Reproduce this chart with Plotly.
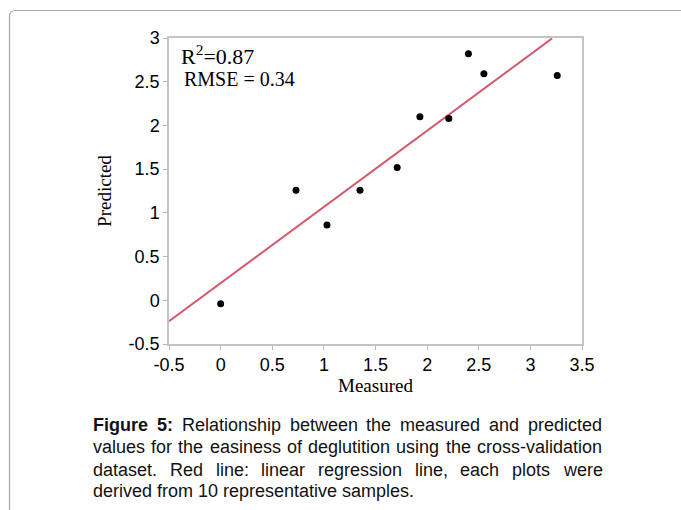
import plotly.graph_objects as go

# ---------------- data ----------------
measured = [0.00, 0.73, 1.03, 1.35, 1.71, 1.93, 2.21, 2.40, 2.55, 3.26]
predicted = [-0.04, 1.26, 0.86, 1.26, 1.52, 2.10, 2.08, 2.82, 2.59, 2.57]
fit_slope = 0.872
fit_intercept = 0.196
fit_x_range = [-0.5, 3.21]

x_tickvals = [-0.5, 0, 0.5, 1, 1.5, 2, 2.5, 3, 3.5]
x_ticktext = ["-0.5", "0", "0.5", "1", "1.5", "2", "2.5", "3", "3.5"]
y_tickvals = [-0.5, 0, 0.5, 1, 1.5, 2, 2.5, 3]
y_ticktext = ["-0.5", "0", "0.5", "1", "1.5", "2", "2.5", "3"]

r2_text = "R<sup>2</sup>=0.87"
rmse_text = "RMSE = 0.34"
x_title = "Measured"
y_title = "Predicted"

caption_lines = [
    [("Figure", True), ("5:", True), ("Relationship", False), ("between", False), ("the", False),
     ("measured", False), ("and", False), ("predicted", False)],
    [("values", False), ("for", False), ("the", False), ("easiness", False), ("of", False),
     ("deglutition", False), ("using", False), ("the", False), ("cross-validation", False)],
    [("dataset.", False), ("Red", False), ("line:", False), ("linear", False), ("regression", False),
     ("line,", False), ("each", False), ("plots", False), ("were", False)],
    [("derived", False), ("from", False), ("10", False), ("representative", False), ("samples.", False)],
]
caption_justify = [True, True, True, False]

# ---------------- layout geometry ----------------
W, H = 681, 510
ML, MR, MT, MB = 169, 99, 38, 166
PW, PH = W - ML - MR, H - MT - MB


def px2x(px):
    return (px - ML) / PW


def py2y(py):
    return (H - MB - py) / PH


SANS = "Liberation Sans, Arial, Helvetica, sans-serif"
SERIF = "Liberation Serif, Times New Roman, Times, serif"

# Arial / Liberation Sans advance widths (1/1000 em)
REG = {' ': 278, ',': 278, '-': 333, '.': 278, ':': 278,
       'a': 556, 'b': 556, 'c': 500, 'd': 556, 'e': 556, 'f': 278, 'g': 556, 'h': 556,
       'i': 222, 'j': 222, 'k': 500, 'l': 222, 'm': 833, 'n': 556, 'o': 556, 'p': 556,
       'q': 556, 'r': 333, 's': 500, 't': 278, 'u': 556, 'v': 500, 'w': 722, 'x': 500,
       'y': 500, 'z': 500, 'R': 722, 'F': 611}
BOLD = {' ': 278, ':': 333, 'F': 611, 'i': 278, 'g': 611, 'u': 611, 'r': 389, 'e': 556}
for d in "0123456789":
    REG[d] = 556
    BOLD[d] = 556


def text_width(s, bold, fs):
    tbl = BOLD if bold else REG
    return sum(tbl.get(c, 556) for c in s) * fs / 1000.0


# ---------------- figure ----------------
fig = go.Figure()

line_y = [fit_intercept + fit_slope * v for v in fit_x_range]
fig.add_trace(go.Scatter(
    x=fit_x_range, y=line_y, mode="lines",
    line=dict(color="#d4596c", width=2), hoverinfo="skip", showlegend=False))

fig.add_trace(go.Scatter(
    x=measured, y=predicted, mode="markers",
    marker=dict(color="black", size=7), showlegend=False))

axis_common = dict(
    showgrid=False, zeroline=False, showline=True, mirror=True,
    linecolor="#c4c4c4", linewidth=1.5,
    ticks="outside", ticklen=4, tickwidth=1, tickcolor="#b8b8b8",
    tickfont=dict(family=SANS, size=18, color="black"),
    tickmode="array",
)

fig.update_xaxes(range=[-0.5, 3.5], tickvals=x_tickvals, ticktext=x_ticktext,
                 title=dict(text=x_title, font=dict(family=SERIF, size=19, color="black"),
                            standoff=4),
                 **axis_common)
fig.update_yaxes(range=[-0.5, 3.0], tickvals=y_tickvals, ticktext=y_ticktext,
                 title=dict(text=y_title, font=dict(family=SERIF, size=19, color="black"),
                            standoff=12),
                 **axis_common)

annotations = []
# stats text
annotations.append(dict(
    text=r2_text, xref="paper", yref="paper", x=px2x(181), y=py2y(62.7 - 0.34 * 22),
    xanchor="left", yanchor="middle", showarrow=False, borderpad=0, borderwidth=0,
    font=dict(family=SERIF, size=22, color="black")))
annotations.append(dict(
    text=rmse_text, xref="paper", yref="paper", x=px2x(184), y=py2y(86 - 0.34 * 20),
    xanchor="left", yanchor="middle", showarrow=False, borderpad=0, borderwidth=0,
    font=dict(family=SERIF, size=20, color="black")))

# caption, justified word by word
cap_fs = 18
cap_left, cap_right = 93, 602
cap_baselines = [431, 453.5, 476, 497.5]
for words, just, base in zip(caption_lines, caption_justify, cap_baselines):
    widths = [text_width(w, b, cap_fs) for w, b in words]
    if just and len(words) > 1:
        gap = (cap_right - cap_left - sum(widths)) / (len(words) - 1)
    else:
        gap = REG[' '] * cap_fs / 1000.0
    xpos = cap_left
    for (w, b), wd in zip(words, widths):
        annotations.append(dict(
            text=("<b>%s</b>" % w) if b else w, xref="paper", yref="paper",
            x=px2x(xpos), y=py2y(base - 0.3465 * cap_fs),
            xanchor="left", yanchor="middle", showarrow=False, borderpad=0, borderwidth=0,
            font=dict(family=SANS, size=cap_fs, color="#111111")))
        xpos += wd + gap

fig.update_layout(annotations=annotations)

# outer rounded frame (extends past right/bottom edges)
bx0, by0, rad = 9.5, 10.5, 6
bx1, by1 = W + 10, H + 10
path = ("M {a},{b} L {a},{c} Q {a},{d} {e},{d} L {f},{d}").format(
    a=px2x(bx0), b=py2y(by1), c=py2y(by0 + rad), d=py2y(by0),
    e=px2x(bx0 + rad), f=px2x(bx1))
fig.add_shape(type="path", path=path, xref="paper", yref="paper",
              line=dict(color="#a8a8a8", width=1.2))

fig.update_layout(
    width=W, height=H,
    margin=dict(l=ML, r=MR, t=MT, b=MB, autoexpand=False),
    paper_bgcolor="white", plot_bgcolor="white",
    showlegend=False,
)

fig.write_html("out.html")
